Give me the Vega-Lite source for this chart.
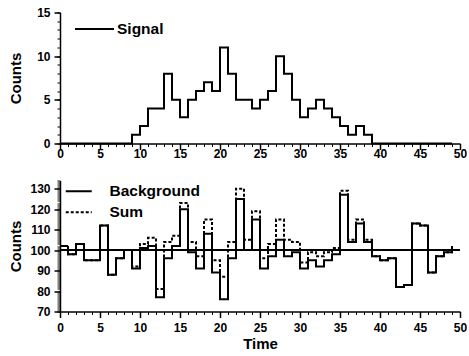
{
  "$schema": "https://vega.github.io/schema/vega-lite/v6.json",
  "padding": {"left": 8, "top": 6.5, "right": 0, "bottom": 0},
  "background": "white",
  "spacing": 20,
  "config": {
    "font": "Liberation Sans",
    "view": {"stroke": null},
    "axis": {
      "labelFont": "Liberation Sans", "labelFontWeight": "bold", "labelFontSize": 12, "labelColor": "black",
      "titleFont": "Liberation Sans", "titleFontWeight": "bold", "titleFontSize": 15, "titleColor": "black",
      "domainColor": "black", "tickColor": "black", "domainWidth": 1.5, "tickWidth": 1.5, "grid": false,
      "labelFlush": false, "labelOverlap": false
    },
    "legend": {
      "labelFont": "Liberation Sans", "labelFontWeight": "bold", "labelFontSize": 15.5, "labelColor": "black",
      "padding": 0, "title": null
    }
  },
  "datasets": {
    "sig": [
      {"t":0,"count":0},{"t":1,"count":0},{"t":2,"count":0},{"t":3,"count":0},{"t":4,"count":0},
      {"t":5,"count":0},{"t":6,"count":0},{"t":7,"count":0},{"t":8,"count":0},{"t":9,"count":1},
      {"t":10,"count":2},{"t":11,"count":4},{"t":12,"count":4},{"t":13,"count":8},{"t":14,"count":5},
      {"t":15,"count":3},{"t":16,"count":5},{"t":17,"count":6},{"t":18,"count":7},{"t":19,"count":6},
      {"t":20,"count":11},{"t":21,"count":8},{"t":22,"count":5},{"t":23,"count":5},{"t":24,"count":4},
      {"t":25,"count":5},{"t":26,"count":6},{"t":27,"count":10},{"t":28,"count":8},{"t":29,"count":5},
      {"t":30,"count":3},{"t":31,"count":4},{"t":32,"count":5},{"t":33,"count":4},{"t":34,"count":3},
      {"t":35,"count":2},{"t":36,"count":1},{"t":37,"count":2},{"t":38,"count":1},{"t":39,"count":0},
      {"t":40,"count":0},{"t":41,"count":0},{"t":42,"count":0},{"t":43,"count":0},{"t":44,"count":0},
      {"t":45,"count":0},{"t":46,"count":0},{"t":47,"count":0},{"t":48,"count":0},{"t":49,"count":0}
    ],
    "bg": [
      {"t":0,"series":"Background","count":102},{"t":1,"series":"Background","count":98},{"t":2,"series":"Background","count":103},
      {"t":3,"series":"Background","count":95},{"t":4,"series":"Background","count":95},{"t":5,"series":"Background","count":112},
      {"t":6,"series":"Background","count":88},{"t":7,"series":"Background","count":96},{"t":8,"series":"Background","count":100},
      {"t":9,"series":"Background","count":91},{"t":10,"series":"Background","count":101},{"t":11,"series":"Background","count":102},
      {"t":12,"series":"Background","count":77},{"t":13,"series":"Background","count":96},{"t":14,"series":"Background","count":102},
      {"t":15,"series":"Background","count":120},{"t":16,"series":"Background","count":99},{"t":17,"series":"Background","count":91},
      {"t":18,"series":"Background","count":108},{"t":19,"series":"Background","count":89},{"t":20,"series":"Background","count":76},
      {"t":21,"series":"Background","count":96},{"t":22,"series":"Background","count":125},{"t":23,"series":"Background","count":100},
      {"t":24,"series":"Background","count":115},{"t":25,"series":"Background","count":91},{"t":26,"series":"Background","count":97},
      {"t":27,"series":"Background","count":105},{"t":28,"series":"Background","count":97},{"t":29,"series":"Background","count":99},
      {"t":30,"series":"Background","count":91},{"t":31,"series":"Background","count":95},{"t":32,"series":"Background","count":92},
      {"t":33,"series":"Background","count":95},{"t":34,"series":"Background","count":98},{"t":35,"series":"Background","count":127},
      {"t":36,"series":"Background","count":104},{"t":37,"series":"Background","count":113},{"t":38,"series":"Background","count":104},
      {"t":39,"series":"Background","count":97},{"t":40,"series":"Background","count":95},{"t":41,"series":"Background","count":96},
      {"t":42,"series":"Background","count":82},{"t":43,"series":"Background","count":83},{"t":44,"series":"Background","count":113},
      {"t":45,"series":"Background","count":112},{"t":46,"series":"Background","count":89},{"t":47,"series":"Background","count":97},
      {"t":48,"series":"Background","count":99},{"t":49,"series":"Background","count":102},
      {"t":0,"series":"Sum","count":102},{"t":1,"series":"Sum","count":98},{"t":2,"series":"Sum","count":103},
      {"t":3,"series":"Sum","count":95},{"t":4,"series":"Sum","count":95},{"t":5,"series":"Sum","count":112},
      {"t":6,"series":"Sum","count":88},{"t":7,"series":"Sum","count":96},{"t":8,"series":"Sum","count":100},
      {"t":9,"series":"Sum","count":92},{"t":10,"series":"Sum","count":103},{"t":11,"series":"Sum","count":106},
      {"t":12,"series":"Sum","count":81},{"t":13,"series":"Sum","count":104},{"t":14,"series":"Sum","count":107},
      {"t":15,"series":"Sum","count":123},{"t":16,"series":"Sum","count":104},{"t":17,"series":"Sum","count":97},
      {"t":18,"series":"Sum","count":115},{"t":19,"series":"Sum","count":95},{"t":20,"series":"Sum","count":87},
      {"t":21,"series":"Sum","count":104},{"t":22,"series":"Sum","count":130},{"t":23,"series":"Sum","count":105},
      {"t":24,"series":"Sum","count":119},{"t":25,"series":"Sum","count":96},{"t":26,"series":"Sum","count":103},
      {"t":27,"series":"Sum","count":115},{"t":28,"series":"Sum","count":105},{"t":29,"series":"Sum","count":104},
      {"t":30,"series":"Sum","count":94},{"t":31,"series":"Sum","count":99},{"t":32,"series":"Sum","count":97},
      {"t":33,"series":"Sum","count":99},{"t":34,"series":"Sum","count":101},{"t":35,"series":"Sum","count":129},
      {"t":36,"series":"Sum","count":105},{"t":37,"series":"Sum","count":115},{"t":38,"series":"Sum","count":105},
      {"t":39,"series":"Sum","count":97},{"t":40,"series":"Sum","count":95},{"t":41,"series":"Sum","count":96},
      {"t":42,"series":"Sum","count":82},{"t":43,"series":"Sum","count":83},{"t":44,"series":"Sum","count":113},
      {"t":45,"series":"Sum","count":112},{"t":46,"series":"Sum","count":89},{"t":47,"series":"Sum","count":97},
      {"t":48,"series":"Sum","count":99},{"t":49,"series":"Sum","count":102}
    ]
  },
  "vconcat": [
    {
      "width": 400,
      "height": 131,
      "data": {"name": "sig"},
      "layer": [
        {
          "mark": {"type": "line", "interpolate": "step-after", "strokeWidth": 2},
          "encoding": {
            "x": {"field": "t", "type": "quantitative", "scale": {"domain": [0, 50], "nice": false, "zero": false},
                  "axis": {"orient": "bottom", "values": [0,5,10,15,20,25,30,35,40,45,50], "tickSize": 6, "labelPadding": -1, "title": null}},
            "y": {"field": "count", "type": "quantitative", "scale": {"domain": [0, 15], "nice": false},
                  "axis": {"orient": "left", "values": [0,5,10,15], "tickSize": 6, "labelPadding": 4, "title": "Counts", "titlePadding": 13}},
            "stroke": {"datum": "Signal", "type": "nominal", "scale": {"range": ["black"]},
                       "legend": {"orient": "none", "legendX": 26, "legendY": 8, "symbolType": "M-2.6,0H2.6", "symbolSize": 225,
                                  "symbolStrokeWidth": 2, "symbolStrokeColor": "black", "labelOffset": 14}}
          }
        },
        {
          "mark": {"type": "line", "strokeOpacity": 0},
          "encoding": {
            "x": {"field": "t", "type": "quantitative",
                  "axis": {"orient": "bottom", "values": [0,1,2,3,4,5,6,7,8,9,10,11,12,13,14,15,16,17,18,19,20,21,22,23,24,25,26,27,28,29,30,31,32,33,34,35,36,37,38,39,40,41,42,43,44,45,46,47,48,49,50],
                           "labels": false, "domain": false, "tickSize": 3, "tickWidth": 1, "title": null}},
            "y": {"field": "count", "type": "quantitative",
                  "axis": {"orient": "left", "values": [0,1,2,3,4,5,6,7,8,9,10,11,12,13,14,15],
                           "labels": false, "domain": false, "tickSize": 3, "tickWidth": 1, "title": null}}
          }
        }
      ],
      "resolve": {"axis": {"x": "independent", "y": "independent"}}
    },
    {
      "width": 400,
      "height": 131,
      "data": {"name": "bg"},
      "layer": [
        {
          "mark": {"type": "rule", "color": "black", "strokeWidth": 1},
          "encoding": {"y": {"datum": 100, "type": "quantitative", "axis": null}}
        },
        {
          "mark": {"type": "line", "interpolate": "step-after", "strokeWidth": 2, "color": "black"},
          "encoding": {
            "x": {"field": "t", "type": "quantitative", "scale": {"domain": [0, 50], "nice": false, "zero": false},
                  "axis": {"orient": "bottom", "values": [0,5,10,15,20,25,30,35,40,45,50], "tickSize": 6, "labelPadding": 5, "title": "Time", "titlePadding": 3}},
            "y": {"field": "count", "type": "quantitative", "scale": {"domain": [70, 134], "nice": false, "zero": false},
                  "axis": {"orient": "left", "values": [70,80,90,100,110,120,130], "tickSize": 6, "labelPadding": 4, "title": "Counts", "titlePadding": 6}},
            "strokeDash": {"field": "series", "type": "nominal",
                           "scale": {"domain": ["Background", "Sum"], "range": [[1, 0], [3, 2]]},
                           "legend": {"orient": "none", "legendX": 11, "legendY": 171, "symbolType": "M-2,0H2", "symbolSize": 169,
                                      "symbolStrokeWidth": 2, "symbolStrokeColor": "black", "labelOffset": 23, "rowPadding": 4}}
          }
        },
        {
          "mark": {"type": "line", "strokeOpacity": 0},
          "encoding": {
            "detail": {"field": "series"},
            "x": {"field": "t", "type": "quantitative",
                  "axis": {"orient": "bottom", "values": [0,1,2,3,4,5,6,7,8,9,10,11,12,13,14,15,16,17,18,19,20,21,22,23,24,25,26,27,28,29,30,31,32,33,34,35,36,37,38,39,40,41,42,43,44,45,46,47,48,49,50],
                           "labels": false, "domain": false, "tickSize": 3, "tickWidth": 1, "title": null}},
            "y": {"field": "count", "type": "quantitative",
                  "axis": {"orient": "left", "values": [70,71,72,73,74,75,76,77,78,79,80,81,82,83,84,85,86,87,88,89,90,91,92,93,94,95,96,97,98,99,100,101,102,103,104,105,106,107,108,109,110,111,112,113,114,115,116,117,118,119,120,121,122,123,124,125,126,127,128,129,130,131,132,133,134],
                           "labels": false, "domain": false, "tickSize": 3, "tickWidth": 1, "title": null}}
          }
        }
      ],
      "resolve": {"axis": {"x": "independent", "y": "independent"}}
    }
  ]
}
